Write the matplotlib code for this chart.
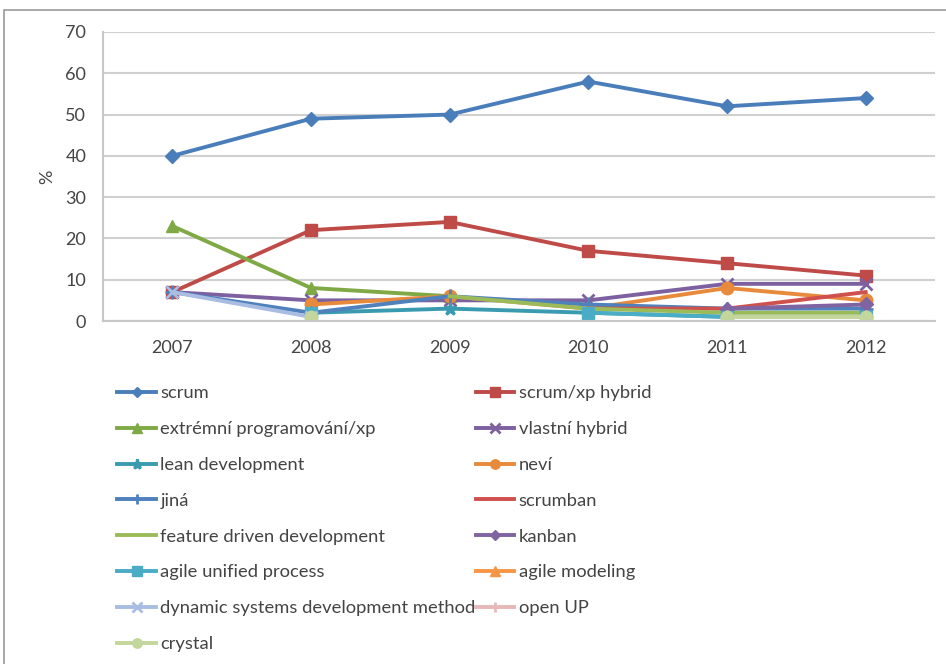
import matplotlib
matplotlib.use('Agg')
import matplotlib.pyplot as plt
from matplotlib.patches import Rectangle

# ---------------------------------------------------------------------------
# Data (% of respondents)
# ---------------------------------------------------------------------------
years = ['2007', '2008', '2009', '2010', '2011', '2012']

scrum          = [40, 49, 50, 58, 52, 54]
scrum_xp       = [7, 22, 24, 17, 14, 11]
xp             = [23, 8, 6, None, None, None]
vlastni        = [7, 5, 5, 5, 9, 9]
lean           = [None, 2, 3, 2, 1, 1]
nevi           = [None, 4, 6, 3, 8, 5]
jina           = [7, 2, 6, 4, 3, 3]
scrumban       = [None, None, None, 3, 3, 7]
fdd            = [None, None, 6, 3, 2, 2]
kanban         = [None, None, None, None, 3, 4]
aup            = [None, 2, None, 2, 1, 1]
agile_modeling = [None, None, None, None, 1, 1]
dsdm           = [7, 1, None, None, None, None]
open_up        = [None, None, None, None, 1, 1]
crystal        = [None, 1, None, None, 1, 1]

labels = ['scrum', 'scrum/xp hybrid', 'extrémní programování/xp', 'vlastní hybrid',
          'lean development', 'neví', 'jiná', 'scrumban',
          'feature driven development', 'kanban', 'agile unified process',
          'agile modeling', 'dynamic systems development method', 'open UP', 'crystal']
values = [scrum, scrum_xp, xp, vlastni, lean, nevi, jina, scrumban,
          fdd, kanban, aup, agile_modeling, dsdm, open_up, crystal]

# style per series: (colour, marker, marker size)
styles = [
    ('#4A7EBB', 'D', 7),
    ('#BE4B48', 's', 9),
    ('#7EA944', '^', 9),
    ('#7D60A0', 'x', 9),
    ('#3A9BB0', '*', 9),
    ('#E88A3C', 'o', 9),
    ('#4F81BD', '+', 10),
    ('#D0504D', 'None', 0),
    ('#9BBB59', 'None', 0),
    ('#8064A2', 'D', 7),
    ('#4BACC6', 's', 9),
    ('#F79646', '^', 9),
    ('#A9BCE2', 'x', 9),
    ('#E6B9B8', '+', 10),
    ('#C3D69B', 'o', 9),
]

plt.rcParams['font.family'] = ['Lato', 'DejaVu Sans']
txt_col = '#444444'

fig = plt.figure(figsize=(9.46, 6.64), dpi=100)
fig.patches.append(Rectangle((4 / 946, -0.1), 1.2, 1 - 10 / 664 + 0.1,
                             transform=fig.transFigure, fill=False,
                             edgecolor='#9a9a9a', lw=1.2))

ax = fig.add_axes([103 / 946, 1 - 321 / 664, 832 / 946, 289 / 664])
x = list(range(len(years)))

handles = []
for vals, lab, (col, mk, ms) in zip(values, labels, styles):
    y = [float('nan') if v is None else v for v in vals]
    h, = ax.plot(x, y, color=col, lw=2.8, marker=mk, markersize=ms,
                 markeredgewidth=2 if mk in ('x', '+', '*') else 1,
                 markerfacecolor=col, markeredgecolor=col, label=lab)
    handles.append(h)

ax.set_xlim(-0.5, len(years) - 0.5)
ax.set_ylim(0, 70)
ax.set_yticks(range(0, 71, 10))
ax.set_xticks(x)
ax.set_xticklabels(years)
ax.tick_params(axis='x', length=0, pad=14, labelsize=13, colors=txt_col)
ax.tick_params(axis='y', length=0, labelsize=13, colors=txt_col, pad=12)
ax.grid(axis='y', color='#d0d0d0', lw=1.5)
ax.set_axisbelow(True)
for s in ('top', 'right'):
    ax.spines[s].set_visible(False)
for s in ('left', 'bottom'):
    ax.spines[s].set_color('#c8c8c8')
    ax.spines[s].set_linewidth(1.5)
ax.set_ylabel('%', fontsize=13, color=txt_col, labelpad=7)

# Excel-style legend: filled row by row, matplotlib fills by column
order = [0, 2, 4, 6, 8, 10, 12, 14, 1, 3, 5, 7, 9, 11, 13]
fig.legend([handles[i] for i in order], [labels[i] for i in order],
           ncol=2, loc='upper left', bbox_to_anchor=(110 / 946, 1 - 378 / 664),
           frameon=False, fontsize=13.2, handlelength=2.1, handletextpad=0.25,
           labelspacing=1.08, columnspacing=0.0, borderaxespad=0,
           markerscale=0.75, labelcolor=txt_col)

fig.savefig('out.png', dpi=100)
